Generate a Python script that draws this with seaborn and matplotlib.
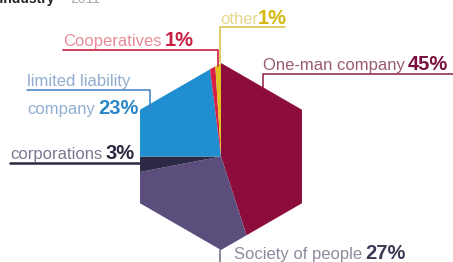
import matplotlib
matplotlib.use('Agg')
import matplotlib.pyplot as plt
import seaborn as sns
import numpy as np
from matplotlib.patches import Polygon

# legal forms, clockwise from the top
forms = ['One-man company', 'Society of people', 'corporations',
         'limited liability company', 'Cooperatives', 'other']
shares = [45, 27, 3, 23, 1, 1]
pct_labels = ['45%', '27%', '3%', '23%', '1%', '1%']
colors = ['#8c0c3c', '#5b4d7c', '#2c2945', '#1f8fd1', '#d61f45', '#e0c020']

W, H = 453, 262


def Y(yp):
    # pixel rows (top-down) to data y (bottom-up)
    return H - yp


def two_part(ax, fig, x, y, name, pct, c_name, c_pct, gap=3):
    r = fig.canvas.get_renderer()
    t = ax.text(x, Y(y), name, color=c_name, fontsize=12,
                family='Liberation Sans', va='baseline')
    bb = t.get_window_extent(r)
    x1 = ax.transData.inverted().transform((bb.x1, bb.y0))[0]
    ax.text(x1 + gap, Y(y), pct, color=c_pct, fontsize=14.5, fontweight='bold',
            family='Liberation Sans', va='baseline')


def visualize():
    sns.set_style('white')
    fig = plt.figure(figsize=(W / 100, H / 100), dpi=100)
    ax = fig.add_axes([0, 0, 1, 1])

    cx, cy, R = 221, 156.5, 93.5
    wedges, _ = ax.pie(shares, colors=colors, startangle=90, counterclock=False,
                       center=(cx, Y(cy)), radius=130,
                       wedgeprops=dict(linewidth=0))
    # clip the round pie to a hexagon
    ang = np.deg2rad([90, 30, -30, -90, -150, 150])
    hexagon = Polygon(np.column_stack([cx + R * np.cos(ang), Y(cy) + R * np.sin(ang)]),
                      closed=True, transform=ax.transData, facecolor='none', edgecolor='none')
    ax.add_patch(hexagon)
    for w in wedges:
        w.set_clip_path(hexagon)
        w.set_clip_on(True)

    ax.set_xlim(0, W)
    ax.set_ylim(0, H)
    ax.set_aspect('auto')
    ax.axis('off')

    # leader lines
    ax.plot([220, 220, 285], [Y(62), Y(27), Y(27)], color='#d8c040', lw=1.1)
    ax.plot([63, 218, 218], [Y(50), Y(50), Y(66)], color='#d0304a', lw=1.3)
    ax.plot([27, 150, 150], [Y(90), Y(90), Y(110)], color='#3a7fc0', lw=1.1)
    ax.plot([10, 139], [Y(163), Y(163)], color='#2a2840', lw=1.8)
    ax.plot([263, 263, 453], [Y(90), Y(74), Y(74)], color='#8c1c44', lw=1.1)
    ax.plot([220, 220], [Y(250), Y(262)], color='#6a6a7a', lw=1.1)

    # labels
    two_part(ax, fig, 220, 24, 'other', pct_labels[5], '#e6d88e', '#d4b80c', gap=0)
    two_part(ax, fig, 63, 46, 'Cooperatives', pct_labels[4], '#e88a98', '#c8203f')
    ax.text(27, Y(86), 'limited liability', color='#90aed0', fontsize=12,
            family='Liberation Sans', va='baseline')
    two_part(ax, fig, 27, 114, 'company', pct_labels[3], '#90aed0', '#2a86c8')
    two_part(ax, fig, 10, 159, 'corporations', pct_labels[2], '#7a7890', '#2a2840')
    two_part(ax, fig, 263, 70, 'One-man company', pct_labels[0], '#9a5a75', '#7a1040')
    two_part(ax, fig, 234, 259, 'Society of people', pct_labels[1], '#8e8a9e', '#3d3a55')

    # title cut off at the top edge
    ax.text(55, Y(3), 'Manufacturing Industry', color='#222222', fontsize=10,
            fontweight='bold', ha='right', va='baseline', family='Liberation Sans')
    ax.text(70, Y(3), '2011', color='#aaaaaa', fontsize=10,
            va='baseline', family='Liberation Sans')

    fig.savefig('out.png', dpi=100)


if __name__ == '__main__':
    visualize()
